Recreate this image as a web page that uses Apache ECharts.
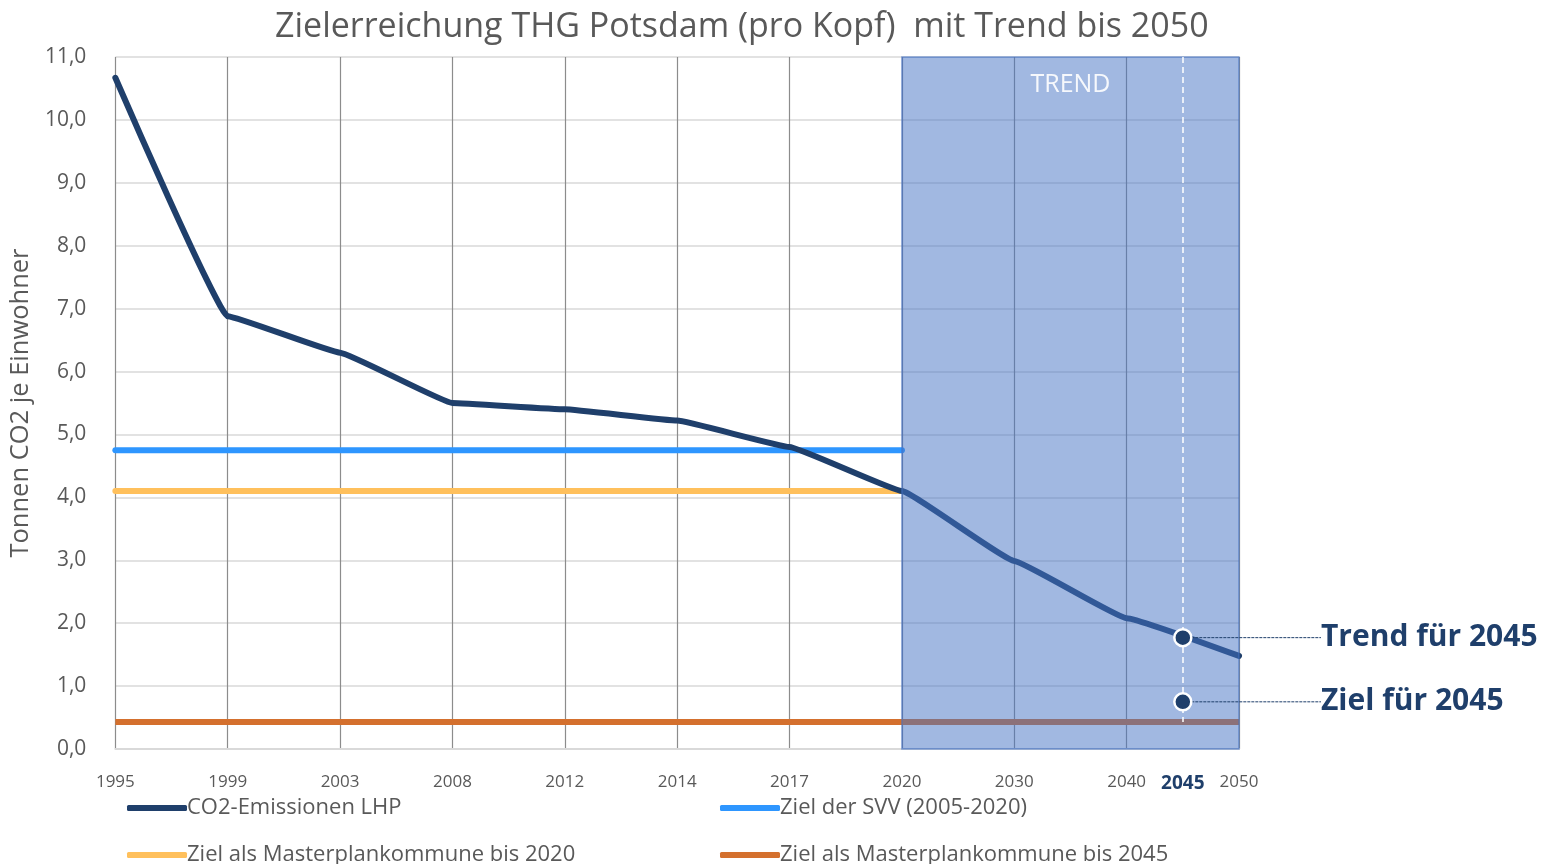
<!DOCTYPE html>
<html>
<head>
<meta charset="utf-8">
<script src="https://cdn.jsdelivr.net/npm/echarts@6/dist/echarts.min.js"></script>
<style>
    html, body { margin: 0; padding: 0; background: #fff; }
    #chart { width: 1567px; height: 864px; }
</style>
</head>
<body>
<div id="chart"></div>
<script>
// Jahre (Kategorien der x-Achse)
const years = ['1995', '1999', '2003', '2008', '2012', '2014', '2017', '2020', '2030', '2040', '2050']
// CO2-Emissionen LHP, Tonnen je Einwohner
const co2Values = [10.67, 6.88, 6.3, 5.5, 5.4, 5.22, 4.8, 4.1, 2.99, 2.08, 1.48]
// Zielwerte (waagerechte Linien): [Wert, von Index, bis Index]
const svvTarget = [4.75, 0, 7]
const master2020 = [4.1, 0, 7]
const master2045 = [0.43, 0, 10]
// Markierungen für 2045
const mark2045Year = '2045'
const mark2045Index = 9.5
const mark2045Names = ['Trend für 2045', 'Ziel für 2045']
const mark2045Values = [1.77, 0.75]
// Trend-Bereich (Index von/bis)
const trendRange = [7, 10]
const yTicks = [0, 1, 2, 3, 4, 5, 6, 7, 8, 9, 10, 11]

const fontFamily = '"Open Sans", "Noto Sans", sans-serif'
const grey = '#595959'
const navy = '#1F3F6B'

function flatLine(t) {
    return [[t[1], t[0]], [t[2], t[0]]]
}

// eine Legende je Eintrag, damit die Anordnung 2x2 wie im Original ist
function legendItem(name, left, top) {
    return {
        left: left,
        top: top,
        itemWidth: 60,
        itemHeight: 6,
        icon: 'roundRect',
        data: [name],
        textStyle: { fontSize: 22, color: grey, padding: [0, 0, 0, -5] }
    }
}

var myChart = echarts.init(document.getElementById('chart'))

var option = {
    backgroundColor: '#fff',
    animation: false,
    textStyle: { fontFamily: fontFamily },
    title: {
        text: 'Zielerreichung THG Potsdam (pro Kopf)  mit Trend bis 2050',
        left: 270,
        top: 5,
        textStyle: { fontSize: 34, fontWeight: 'normal', color: grey, fontFamily: fontFamily }
    },
    legend: [
        legendItem('CO2-Emissionen LHP', 122, 792),
        legendItem('Ziel der SVV (2005-2020)', 715, 792),
        legendItem('Ziel als Masterplankommune bis 2020', 122, 839),
        legendItem('Ziel als Masterplankommune bis 2045', 715, 839)
    ],
    grid: {
        left: 115,
        right: 328,
        top: 57,
        bottom: 115
    },
    xAxis: {
        type: 'value',
        min: 0,
        max: years.length - 1,
        interval: 0.5,
        axisLine: { show: true, lineStyle: { color: '#d9d9d9', width: 2 } },
        axisTick: { show: false },
        axisLabel: {
            margin: 25,
            fontSize: 17,
            color: grey,
            formatter: function (value) {
                if (value === mark2045Index) return '{b|' + mark2045Year + '}'
                if (Number.isInteger(value)) return years[value]
                return ''
            },
            rich: {
                b: { fontSize: 19, fontWeight: 'bold', color: navy }
            }
        },
        splitLine: {
            show: true,
            lineStyle: { color: ['#8c8c8c', 'rgba(0,0,0,0)'], width: 1.2 }
        }
    },
    yAxis: {
        type: 'value',
        min: yTicks[0],
        max: yTicks[yTicks.length - 1],
        interval: 1,
        name: 'Tonnen CO2 je Einwohner',
        nameLocation: 'middle',
        nameGap: 70,
        nameTextStyle: { fontSize: 25.5, color: grey },
        axisLine: { show: false },
        axisTick: { show: false },
        axisLabel: {
            margin: 29,
            fontSize: 21,
            color: grey,
            formatter: function (v) { return v.toFixed(1).replace('.', ',') }
        },
        splitLine: { lineStyle: { color: '#d9d9d9', width: 1.5 } }
    },
    series: [
        {
            name: 'CO2-Emissionen LHP',
            type: 'line',
            data: co2Values.map((v, i) => [i, v]),
            showSymbol: false,
            smooth: 0.08,
            smoothMonotone: 'x',
            color: navy,
            lineStyle: { width: 6, color: navy, cap: 'round', join: 'round' },
            z: 3
        },
        {
            name: 'Ziel der SVV (2005-2020)',
            type: 'line',
            data: flatLine(svvTarget),
            showSymbol: false,
            color: '#2E96FF',
            lineStyle: { width: 6, color: '#2E96FF', cap: 'round' },
            z: 2
        },
        {
            name: 'Ziel als Masterplankommune bis 2020',
            type: 'line',
            data: flatLine(master2020),
            showSymbol: false,
            color: '#FFC05C',
            lineStyle: { width: 6, color: '#FFC05C', cap: 'round' },
            z: 2
        },
        {
            name: 'Ziel als Masterplankommune bis 2045',
            type: 'line',
            data: flatLine(master2045),
            showSymbol: false,
            color: '#D4702E',
            lineStyle: { width: 6, color: '#D4702E', cap: 'butt' },
            z: 2
        },
        {
            // Trend-Bereich als halbtransparente Fläche über den Linien
            name: 'Trend',
            type: 'line',
            data: [],
            markArea: {
                silent: true,
                z: 10,
                itemStyle: {
                    color: 'rgba(68,114,196,0.5)',
                    borderColor: 'rgba(68,114,196,0.6)',
                    borderWidth: 1.5
                },
                label: {
                    show: true,
                    position: 'insideTop',
                    distance: 16,
                    color: 'rgba(255,255,255,0.9)',
                    fontSize: 25,
                    fontFamily: fontFamily
                },
                data: [[
                    { name: 'TREND', coord: [trendRange[0], 11] },
                    { coord: [trendRange[1], 0] }
                ]]
            },
            // gestrichelte weiße Linie bei 2045
            markLine: {
                silent: true,
                symbol: 'none',
                z: 12,
                label: { show: false },
                lineStyle: { color: '#ffffff', width: 1.5, type: [6, 4], opacity: 1 },
                data: [[
                    { coord: [mark2045Index, 11] },
                    { coord: [mark2045Index, master2045[0]] }
                ]]
            }
        },
        {
            name: '2045',
            type: 'scatter',
            data: mark2045Values.map((v, i) => ({ name: mark2045Names[i], value: [mark2045Index, v] })),
            symbolSize: 17,
            itemStyle: { color: navy, borderColor: '#fff', borderWidth: 2.5, opacity: 1 },
            z: 20,
            label: {
                show: true,
                position: 'right',
                formatter: '{b}',
                fontSize: 30,
                fontWeight: 'bold',
                color: navy,
                fontFamily: fontFamily
            },
            labelLayout: function () {
                return { x: 1321, align: 'left', verticalAlign: 'middle' }
            },
            labelLine: {
                show: true,
                length2: 0,
                lineStyle: { color: navy, width: 1, type: [3, 1] }
            }
        }
    ]
}

myChart.setOption(option)
</script>
</body>
</html>
